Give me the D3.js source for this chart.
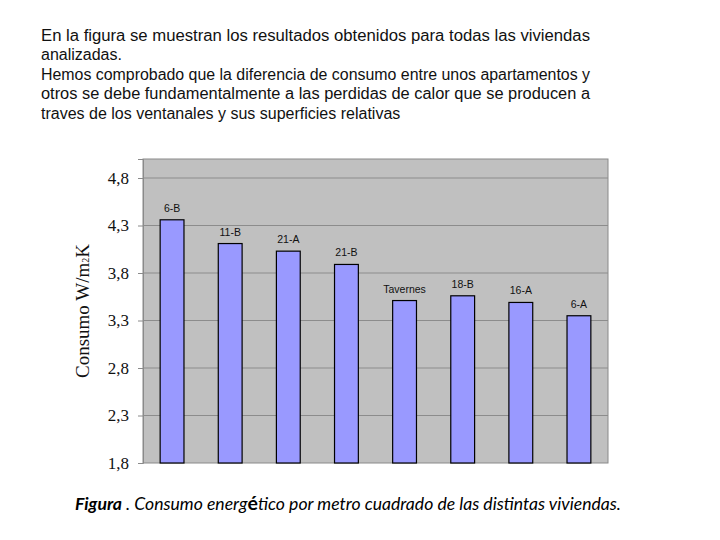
<!DOCTYPE html>
<html lang="es">
<head>
<meta charset="UTF-8" />
<title>Consumo por vivienda</title>
<style>
  body { margin: 0; background: #fff; }
</style>
<script src="https://d3js.org/d3.v7.min.js"></script>
</head>
<body>
<div id="container"></div>
<script>
// datos
const viviendas = ["6-B", "11-B", "21-A", "21-B", "Tavernes", "18-B", "16-A", "6-A"];
const consumo = [4.36, 4.11, 4.03, 3.89, 3.51, 3.56, 3.49, 3.35];
const ticks = [1.8, 2.3, 2.8, 3.3, 3.8, 4.3, 4.8];

const parrafo = [
  { t: "En la figura se muestran los resultados obtenidos para todas las viviendas", just: true },
  { t: "analizadas.", just: false },
  { t: "Hemos comprobado que la diferencia de consumo entre unos apartamentos y", just: true },
  { t: "otros se debe fundamentalmente a las perdidas de calor que se producen a", just: true },
  { t: "traves de los ventanales y sus superficies relativas", just: false }
];
const baselines = [41, 60, 80, 99, 119];

const sans = "'Liberation Sans', Arial, sans-serif";
const serif = "'Liberation Serif', 'Times New Roman', serif";

const width = 720, height = 540;
const svg = d3.select("#container").append("svg")
  .attr("width", width).attr("height", height);

// texto superior
svg.append("g").selectAll("text")
  .data(parrafo)
  .join("text")
  .attr("x", 41)
  .attr("y", (d, i) => baselines[i])
  .style("font-family", sans)
  .attr("font-size", 16)
  .attr("fill", "#111")
  .attr("textLength", d => d.just ? 549 : null)
  .attr("lengthAdjust", "spacingAndGlyphs")
  .text(d => d.t);

// area del grafico
const plot = { left: 143, right: 608, top: 159, bottom: 463 };

const x = d3.scaleBand()
  .domain(viviendas)
  .range([plot.left, plot.right])
  .paddingInner(0.59)
  .paddingOuter(0.295);

const y = d3.scaleLinear()
  .domain([1.8, 4.8 + 0.2])
  .range([plot.bottom, plot.top]);

svg.append("rect")
  .attr("x", plot.left).attr("y", plot.top)
  .attr("width", plot.right - plot.left)
  .attr("height", plot.bottom - plot.top)
  .attr("fill", "#c0c0c0")
  .attr("stroke", "#8a8a8a")
  .attr("stroke-width", 1);

// lineas de division
svg.append("g").selectAll("line")
  .data(ticks.slice(1))
  .join("line")
  .attr("x1", plot.left).attr("x2", plot.right)
  .attr("y1", d => y(d)).attr("y2", d => y(d))
  .attr("stroke", "#8c8c8c")
  .attr("stroke-width", 1);

// eje y
const yAxis = svg.append("g")
  .attr("transform", `translate(${plot.left},0)`)
  .call(d3.axisLeft(y).tickValues(ticks).tickSize(5).tickPadding(9)
    .tickFormat(d => d3.format(".1f")(d).replace(".", ",")));
yAxis.select(".domain").attr("stroke", "#8a8a8a");
yAxis.selectAll(".tick line").attr("stroke", "#8a8a8a");
yAxis.selectAll(".tick text")
  .style("font-family", serif)
  .attr("font-size", 17)
  .attr("fill", "#111");

// titulo del eje
const yt = svg.append("text")
  .attr("transform", `translate(89,${(plot.top + plot.bottom) / 2}) rotate(-90)`)
  .attr("text-anchor", "middle")
  .style("font-family", serif)
  .attr("font-size", 19)
  .attr("fill", "#111");
yt.append("tspan").text("Consumo W/m");
yt.append("tspan").attr("font-size", 10).text("2");
yt.append("tspan").text("K");

// barras
svg.append("g").selectAll("rect")
  .data(viviendas)
  .join("rect")
  .attr("x", d => x(d))
  .attr("y", (d, i) => y(consumo[i]))
  .attr("width", x.bandwidth())
  .attr("height", (d, i) => plot.bottom - y(consumo[i]))
  .attr("fill", "#9999ff")
  .attr("stroke", "#000")
  .attr("stroke-width", 1.2);

// etiquetas
svg.append("g").selectAll("text")
  .data(viviendas)
  .join("text")
  .attr("x", d => x(d) + x.bandwidth() / 2)
  .attr("y", (d, i) => y(consumo[i]) - 8)
  .attr("text-anchor", "middle")
  .style("font-family", sans)
  .attr("font-size", 10.5)
  .attr("fill", "#111")
  .text(d => d);

// pie de figura
const cap = svg.append("text")
  .attr("x", 75).attr("y", 510)
  .style("font-family", "Lato, 'Open Sans', sans-serif")
  .attr("font-size", 17.6)
  .attr("font-style", "italic")
  .attr("fill", "#000");
cap.append("tspan").attr("font-weight", "bold").text("Figura");
cap.append("tspan").text(" . Consumo energ");
cap.append("tspan").attr("font-weight", "bold").attr("font-size", 19.5).attr("font-style", "normal").text("é");
cap.append("tspan").text("tico por metro cuadrado de las distintas viviendas.");
</script>
</body>
</html>
